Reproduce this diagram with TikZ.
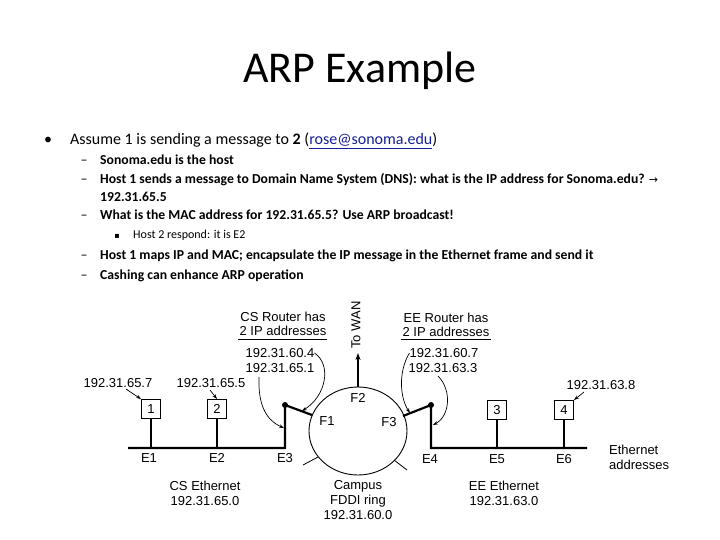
\documentclass[tikz,border=0pt]{standalone}
\usepackage{fontspec}
\setmainfont{Carlito}
\newfontfamily\diag{Liberation Sans}
\newfontfamily\symf{DejaVu Sans}
\usetikzlibrary{arrows.meta}
\definecolor{linkblue}{RGB}{20,30,150}
\tikzset{
  txtA/.style={anchor=base west,inner sep=0pt,font=\fontsize{16}{19}\selectfont},
  txtB/.style={anchor=base west,inner sep=0pt,font=\bfseries\fontsize{13.7}{17}\selectfont},
  txtC/.style={anchor=base west,inner sep=0pt,font=\fontsize{12}{14}\selectfont},
  dashmark/.style={anchor=base,inner sep=0pt,font=\fontsize{14}{17}\selectfont},
  lbl/.style={inner sep=0pt,font=\diag\fontsize{13}{15}\selectfont},
  host/.style={draw,line width=0.9pt,minimum width=19pt,minimum height=19pt,inner sep=0pt,font=\diag\fontsize{13}{15}\selectfont},
  wire/.style={line width=2.2pt},
  thin/.style={line width=0.8pt},
  ptr/.style={line width=0.7pt,-{Stealth[length=5pt,width=3.5pt]}},
  dot/.style={circle,fill,inner sep=0pt,minimum size=6pt}
}
\begin{document}
\begin{tikzpicture}[x=1pt,y=-1pt]
\useasboundingbox (0,0) rectangle (720,540);
% title
\node[anchor=base,inner sep=0pt,font=\fontsize{44}{50}\selectfont] (title) at (360,83) {ARP Example};
% bullets
\node[anchor=base,inner sep=0pt,font=\fontsize{16}{19}\selectfont] (b1) at (48,145) {•};
\node[txtA] (t1) at (70,145) {Assume 1 is sending a message to \textbf{2} (\textcolor{linkblue}{\underline{rose@sonoma.edu}})};
\node[dashmark] (d1) at (84,165) {–};
\node[txtB] (t2) at (100,165) {Sonoma.edu is the host};
\node[dashmark] (d2) at (84,184) {–};
\node[txtB] (t3) at (100,184) {Host 1 sends a message to Domain Name System (DNS): what is the IP address for Sonoma.edu? {\symf\mdseries\fontsize{11}{13}\selectfont →}};
\node[txtB] (t3b) at (100,202) {192.31.65.5};
\node[dashmark] (d3) at (84,220) {–};
\node[txtB] (t4) at (100,220) {What is the MAC address for 192.31.65.5? Use ARP broadcast!};
\node[anchor=base,inner sep=0pt,font=\symf\fontsize{8}{10}\selectfont] (s1) at (117,238.5) {▪};
\node[txtC] (t5) at (133,238.5) {Host 2 respond: it is E2};
\node[dashmark] (d4) at (84,259.5) {–};
\node[txtB] (t6) at (100,259.5) {Host 1 maps IP and MAC; encapsulate the IP message in the Ethernet frame and send it};
\node[dashmark] (d5) at (84,279.5) {–};
\node[txtB] (t7) at (100,279.5) {Cashing can enhance ARP operation};

% ---------- diagram ----------
% router labels
\node[lbl] (csr1) at (283,317) {CS Router has};
\node[lbl] (csr2) at (283,331) {2 IP addresses};
\draw[thin] (238,339.5) -- (327,339.5);
\node[lbl] (eer1) at (446,318) {EE Router has};
\node[lbl] (eer2) at (446,332) {2 IP addresses};
\draw[thin] (401,339.5) -- (491,339.5);
\node[lbl,rotate=90] (wan) at (356,325) {To WAN};
\node[lbl] (ip604) at (280,353) {192.31.60.4};
\node[lbl] (ip651) at (280,368) {192.31.65.1};
\node[lbl] (ip607) at (444,353) {192.31.60.7};
\node[lbl] (ip633) at (443,368) {192.31.63.3};
\node[lbl] (ip657) at (118,383) {192.31.65.7};
\node[lbl] (ip655) at (211,383) {192.31.65.5};
\node[lbl] (ip638) at (601,385) {192.31.63.8};

% hosts
\node[host] (h1) at (151,409) {1};
\node[host] (h2) at (217,409) {2};
\node[host] (h3) at (497,410) {3};
\node[host] (h4) at (564,410) {4};

% FDDI ring
\draw[line width=0.9pt] (358,431) ellipse [x radius=49, y radius=44];
\coordinate (F1p) at (312,415);
\coordinate (F2p) at (358,387);
\coordinate (F3p) at (403,416);
\node[lbl] (F1) at (327,421) {F1};
\node[lbl] (F2) at (358,398) {F2};
\node[lbl] (F3) at (389,422) {F3};
\draw[thin] (303,465) -- (318,457);
\draw[thin] (394,460) -- (407,470);

% routers
\node[dot] (rcs) at (285,405) {};
\node[dot] (ree) at (431,405) {};
\coordinate (cE3) at (285,448);
\coordinate (cE4) at (431,448);
\coordinate (csL) at (128,448);
\coordinate (eeR) at (587,448);

% wires
\draw[wire] (csL) -- (cE3) -- (rcs.center) -- (F1p);
\draw[wire] (eeR) -- (cE4) -- (ree.center) -- (F3p);
\draw[wire] (h1.south) -- (h1.south |- csL);
\draw[wire] (h2.south) -- (h2.south |- csL);
\draw[wire] (h3.south) -- (h3.south |- eeR);
\draw[wire] (h4.south) -- (h4.south |- eeR);
\draw[line width=2pt,-{Stealth[length=7pt,width=5pt]}] (F2p) -- (358,353);

% ethernet labels
\node[lbl] (E1) at (149,458) {E1};
\node[lbl] (E2) at (217,458) {E2};
\node[lbl] (E3) at (285,458) {E3};
\node[lbl] (E4) at (430,459) {E4};
\node[lbl] (E5) at (497,459) {E5};
\node[lbl] (E6) at (564,459) {E6};
\node[lbl,anchor=west,align=left] (ea) at (609,457) {Ethernet\\addresses};
\node[lbl,align=center] (cse) at (205,493) {CS Ethernet\\192.31.65.0};
\node[lbl,align=center] (cam) at (358,500.5) {Campus\\FDDI ring\\192.31.60.0};
\node[lbl,align=center] (eee) at (504,493) {EE Ethernet\\192.31.63.0};

% pointers
\draw[ptr] (126,389) -- (h1.north west);
\draw[ptr] (210,390) -- (h2.north);
\draw[ptr] (584,392) -- (h4.north east);
\draw[ptr] (ip604.east) .. controls (332,365) and (326,396) .. (302,411);
\draw[ptr] (259,377) .. controls (258,405) and (266,420) .. (284,428);
\draw[ptr] (ip607.west) .. controls (398,372) and (400,398) .. (410,413);
\draw[ptr] (438,376) .. controls (452,390) and (450,416) .. (433,425);
\end{tikzpicture}
\end{document}
